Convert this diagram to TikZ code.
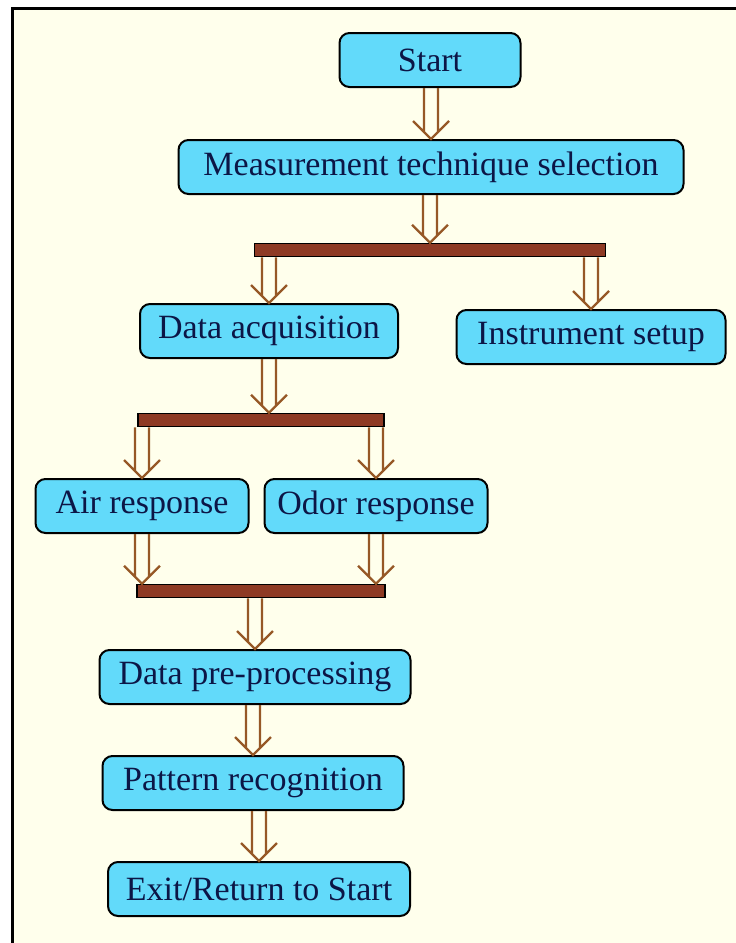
\documentclass[tikz,border=0pt]{standalone}
\usepackage{fontspec}
\setmainfont{Liberation Serif}
\usetikzlibrary{calc}
\definecolor{paper}{RGB}{255,255,236}
\definecolor{boxfill}{RGB}{98,218,250}
\definecolor{ink}{RGB}{12,22,70}
\definecolor{shaft}{RGB}{150,88,38}
\definecolor{barfill}{RGB}{142,58,36}
\begin{document}
\begin{tikzpicture}[x=1pt,y=-1pt,
  stage/.style={draw=black, line width=2pt, fill=boxfill, rounded corners=10pt,
    minimum height=54pt, text=ink, font=\fontsize{34}{40}\selectfont, inner sep=0pt},
  bar/.style={draw=black, line width=1.5pt, fill=barfill, minimum height=13pt, inner sep=0pt},
  dbl/.style={draw=shaft, line width=2.4pt, to path={
    let \p1=(\tikztostart), \p2=(\tikztotarget) in
    (\x2-7pt,\y1) -- (\x2-7pt,\y2+8pt) (\x2+7pt,\y1) -- (\x2+7pt,\y2+8pt)
    (\x2-18pt,\y2+18pt) -- (\x2,\y2) -- (\x2+18pt,\y2+18pt)}}]
\useasboundingbox (0,0) rectangle (736,943);
\fill[white] (0,0) rectangle (736,943);
\fill[paper] (12,8) rectangle (736,943);
\draw[line width=3pt] (12,943) -- (12,8) -- (736,8);
\node[stage, minimum width=181pt] (start) at (430,60) {Start};
\node[stage, minimum width=505pt] (meas) at (431,167) {Measurement technique selection};
\node[bar, minimum width=351pt] (bar1) at (430,250) {};
\node[stage, minimum width=258pt] (daq) at (269,331) {Data acquisition};
\node[stage, minimum width=269pt] (inst) at (591,337) {Instrument setup};
\node[bar, minimum width=246pt] (bar2) at (261,420) {};
\node[stage, minimum width=213pt] (air) at (142,506) {Air response};
\node[stage, minimum width=223pt] (odor) at (376,506) {Odor response};
\node[bar, minimum width=248pt] (bar3) at (261,591) {};
\node[stage, minimum width=311pt] (prep) at (255,677) {Data pre-processing};
\node[stage, minimum width=301pt] (patt) at (253,783) {Pattern recognition};
\node[stage, minimum width=302pt] (exit) at (259,889) {Exit/Return to Start};
\draw[dbl] (start.south) to (meas.north);
\draw[dbl] (meas.south) to (bar1.north);
\draw[dbl] (bar1.south) to (daq.north);
\draw[dbl] (bar1.south) to (inst.north);
\draw[dbl] (daq.south) to (bar2.north -| daq);
\draw[dbl] (bar2.south) to (air.north);
\draw[dbl] (bar2.south) to (odor.north);
\draw[dbl] (air.south) to (bar3.north -| air);
\draw[dbl] (odor.south) to (bar3.north -| odor);
\draw[dbl] (bar3.south) to (prep.north);
\draw[dbl] (prep.south) to (patt.north);
\draw[dbl] (patt.south) to (exit.north);
\end{tikzpicture}
\end{document}
